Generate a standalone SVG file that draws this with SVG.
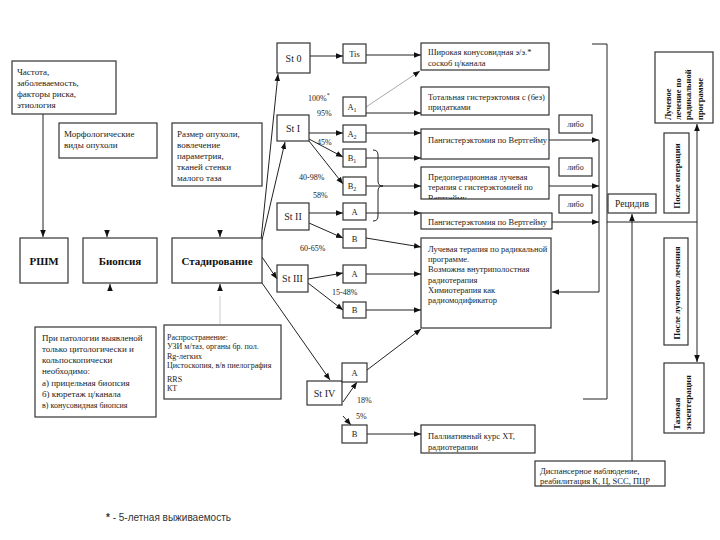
<svg xmlns="http://www.w3.org/2000/svg" width="720" height="540" viewBox="0 0 720 540">
<style>
.b{fill:#fff;stroke:#333;stroke-width:1.2}
.t{font-family:"Liberation Serif",serif;font-size:8.5px;fill:#222}
.s{font-family:"Liberation Serif",serif;font-size:10px;fill:#222;text-anchor:middle}
.h{font-family:"Liberation Serif",serif;font-size:11px;font-weight:bold;fill:#111;text-anchor:middle}
.r{font-family:"Liberation Serif",serif;font-size:8.5px;font-weight:bold;fill:#111}
.p{font-family:"Liberation Serif",serif;font-size:8px;fill:#222}
.c line,.c path,.c polyline{stroke:#222;stroke-width:1;fill:none}
.c .a{marker-end:url(#a)}
</style>
<defs>
<marker id="a" viewBox="0 0 10 10" refX="10" refY="5" markerWidth="7" markerHeight="7" markerUnits="userSpaceOnUse" orient="auto"><path d="M0,1 L10,5 L0,9 z" fill="#111"/></marker>
<clipPath id="cp"><rect x="421" y="167" width="128" height="32"/></clipPath>
</defs>
<rect width="720" height="540" fill="#fff"/>

<g class="c" id="connectors">
<line class="a" x1="43" y1="114" x2="43" y2="237"/>
<line class="a" x1="107" y1="231" x2="107" y2="237"/>
<line class="a" x1="110" y1="290" x2="110" y2="284"/>
<line class="a" x1="220" y1="231" x2="220" y2="237"/>
<line class="a" x1="220" y1="290" x2="220" y2="284"/>
<line x1="220" y1="296" x2="220" y2="324" style="stroke:#ccc"/>
<line class="a" x1="261" y1="240" x2="278" y2="74"/>
<line class="a" x1="262" y1="240" x2="285" y2="142"/>
<line class="a" x1="262" y1="257" x2="277" y2="279"/>
<line class="a" x1="262" y1="283" x2="330" y2="380"/>
<line class="a" x1="310" y1="56" x2="343" y2="56"/>
<line class="a" x1="366" y1="55" x2="421" y2="55"/>
<line class="a" x1="366" y1="107" x2="420" y2="71" style="stroke:#aaa"/>
<line class="a" x1="366" y1="113" x2="421" y2="113"/>
<line class="a" x1="309" y1="133" x2="343" y2="133"/>
<line class="a" x1="366" y1="133" x2="421" y2="133"/>
<line class="a" x1="309" y1="139" x2="343" y2="157"/>
<line class="a" x1="309" y1="141" x2="343" y2="184"/>
<line class="a" x1="366" y1="158" x2="421" y2="158"/>
<line class="a" x1="366" y1="186" x2="421" y2="186"/>
<path d="M373,150 Q378,150 378,155 L378,181 Q378,186 383,186 Q378,186 378,191 L378,216 Q378,221 373,221"/>
<line class="a" x1="309" y1="213" x2="343" y2="213"/>
<line class="a" x1="366" y1="213" x2="421" y2="213"/>
<line class="a" x1="309" y1="223" x2="343" y2="238"/>
<line class="a" x1="366" y1="238" x2="421" y2="247"/>
<line class="a" x1="308" y1="279" x2="343" y2="273"/>
<line class="a" x1="308" y1="283" x2="343" y2="310"/>
<line class="a" x1="366" y1="274" x2="421" y2="274"/>
<line class="a" x1="366" y1="310" x2="421" y2="310"/>
<line class="a" x1="367" y1="370" x2="421" y2="329"/>
<line class="a" x1="343" y1="402" x2="357" y2="382"/>
<line class="a" x1="343" y1="416" x2="351" y2="425"/>
<line class="a" x1="367" y1="434" x2="421" y2="434"/>
<line class="a" x1="549" y1="140" x2="599" y2="140"/>
<line class="a" x1="549" y1="186" x2="599" y2="186"/>
<line class="a" x1="552" y1="222" x2="599" y2="222"/>
<polyline class="a" points="599,140 599,292 552,292"/>
<polyline points="592,44 607,44 607,399 583,399"/>
<line x1="607" y1="222" x2="697" y2="222"/>
<line class="a" x1="697" y1="222" x2="697" y2="124"/>
<line class="a" x1="697" y1="222" x2="697" y2="362"/>
<line class="a" x1="632" y1="461" x2="632" y2="214"/>
</g>

<g id="n-freq"><rect class="b" x="12" y="61" width="104" height="53"/>
<text class="t" style="font-size:9px" x="17" y="75">Частота,</text>
<text class="t" style="font-size:9px" x="17" y="86">заболеваемость,</text>
<text class="t" style="font-size:9px" x="17" y="97">факторы риска,</text>
<text class="t" style="font-size:9px" x="17" y="108">этиология</text></g>

<g id="n-morph"><rect class="b" x="59" y="123" width="98" height="35"/>
<text class="t" style="font-size:9px" x="64" y="137">Морфологические</text>
<text class="t" style="font-size:9px" x="64" y="148">виды опухоли</text></g>

<g id="n-size"><rect class="b" x="172" y="123" width="90" height="63"/>
<text class="t" style="font-size:9px" x="177" y="137">Размер опухоли,</text>
<text class="t" style="font-size:9px" x="177" y="148">вовлечение</text>
<text class="t" style="font-size:9px" x="177" y="159">параметрия,</text>
<text class="t" style="font-size:9px" x="177" y="170">тканей стенки</text>
<text class="t" style="font-size:9px" x="177" y="181">малого таза</text></g>

<g id="n-rshm"><rect class="b" x="20" y="238" width="48" height="45"/><text class="h" x="44" y="265">РШМ</text></g>
<g id="n-biopsy"><rect class="b" x="83" y="238" width="74" height="45"/><text class="h" x="120" y="265">Биопсия</text></g>
<g id="n-staging"><rect class="b" x="172" y="238" width="90" height="45"/><text class="h" x="217" y="265">Стадирование</text></g>

<g id="n-path"><rect class="b" x="35" y="327" width="121" height="90"/>
<text class="t" style="font-size:9px" x="42" y="341">При патологии выявленой</text>
<text class="t" style="font-size:9px" x="42" y="352"> только цитологически и</text>
<text class="t" style="font-size:9px" x="42" y="363">кольпоскопически</text>
<text class="t" style="font-size:9px" x="42" y="374">необходимо:</text>
<text class="t" style="font-size:9px" x="42" y="386">а) прицельная биопсия</text>
<text class="t" style="font-size:9px" x="42" y="397">б) кюретаж ц/канала</text>
<text class="t" style="font-size:8px" x="42" y="408">в) конусовидная биопсия</text></g>

<g id="n-spread"><rect class="b" x="164" y="325" width="117" height="74"/>
<text class="p" x="167" y="340">Распространение:</text>
<text class="p" x="167" y="349">УЗИ м/таз, органы бр. пол.</text>
<text class="p" x="167" y="359">Rg-легких</text>
<text class="p" x="167" y="368">Цистоскопия, в/в пиелография</text>
<text class="p" x="167" y="382">RRS</text>
<text class="p" x="167" y="391">КТ</text></g>

<g id="n-st0"><rect class="b" x="277" y="43" width="33" height="30"/><text class="s" x="293.5" y="62">St 0</text></g>
<g id="n-st1"><rect class="b" x="277" y="115" width="32" height="26"/><text class="s" x="293" y="132">St I</text></g>
<g id="n-st2"><rect class="b" x="277" y="203" width="32" height="27"/><text class="s" x="293" y="220">St II</text></g>
<g id="n-st3"><rect class="b" x="277" y="265" width="31" height="27"/><text class="s" x="292.5" y="282">St III</text></g>
<g id="n-st4"><rect class="b" x="307" y="381" width="35" height="24"/><text class="s" x="324.5" y="397">St IV</text></g>

<g id="n-tis"><rect class="b" x="343" y="44" width="23" height="19"/><text class="t" x="354.5" y="57" text-anchor="middle">Tis</text></g>
<g id="n-a1"><rect class="b" x="343" y="97" width="23" height="19"/><text class="t" x="352" y="110" text-anchor="middle">A<tspan font-size="6" dy="2">1</tspan></text></g>
<g id="n-a2"><rect class="b" x="343" y="125" width="23" height="17"/><text class="t" x="352" y="137" text-anchor="middle">A<tspan font-size="6" dy="2">2</tspan></text></g>
<g id="n-b1"><rect class="b" x="343" y="149" width="23" height="18"/><text class="t" x="352" y="161" text-anchor="middle">B<tspan font-size="6" dy="2">1</tspan></text></g>
<g id="n-b2"><rect class="b" x="343" y="177" width="23" height="18"/><text class="t" x="352" y="189" text-anchor="middle">B<tspan font-size="6" dy="2">2</tspan></text></g>
<g id="n-2a"><rect class="b" x="343" y="203" width="23" height="17"/><text class="t" x="354.5" y="215" text-anchor="middle">A</text></g>
<g id="n-2b"><rect class="b" x="343" y="229" width="23" height="19"/><text class="t" x="354.5" y="242" text-anchor="middle">B</text></g>
<g id="n-3a"><rect class="b" x="343" y="265" width="23" height="18"/><text class="t" x="354.5" y="277" text-anchor="middle">A</text></g>
<g id="n-3b"><rect class="b" x="343" y="302" width="23" height="16"/><text class="t" x="354.5" y="313" text-anchor="middle">B</text></g>
<g id="n-4a"><rect class="b" x="342" y="363" width="25" height="19"/><text class="t" x="354.5" y="376" text-anchor="middle">A</text></g>
<g id="n-4b"><rect class="b" x="342" y="425" width="25" height="18"/><text class="t" x="354.5" y="437" text-anchor="middle">B</text></g>

<g id="n-wide"><rect class="b" x="421" y="43" width="128" height="27"/>
<text class="t" x="428" y="55">Широкая конусовидная э/э.*</text>
<text class="t" x="428" y="66">соскоб ц/канала</text></g>
<g id="n-total"><rect class="b" x="421" y="87" width="128" height="28"/>
<text class="t" x="428" y="100">Тотальная гистерэктомия с (без)</text>
<text class="t" x="428" y="110">придатками</text></g>
<g id="n-pan1"><rect class="b" x="421" y="129" width="128" height="30"/>
<text class="t" x="428" y="143">Пангистерэктомия по Вертгейму</text></g>
<g id="n-preop"><rect class="b" x="421" y="167" width="128" height="32"/>
<g clip-path="url(#cp)">
<text class="t" x="428" y="180">Предоперационная лучевая</text>
<text class="t" x="428" y="190">терапия с гистерэктомией по</text>
<text class="t" x="428" y="200.5">Вертгейму</text></g></g>
<g id="n-pan2"><rect class="b" x="421" y="213" width="131" height="16"/>
<text class="t" x="428" y="225">Пангистерэктомия по Вертгейму</text></g>
<g id="n-ray"><rect class="b" x="421" y="238" width="130" height="90"/>
<text class="t" x="428" y="252">Лучевая терапия по радикальной</text>
<text class="t" x="428" y="262">программе.</text>
<text class="t" x="428" y="272">Возможна внутриполостная</text>
<text class="t" x="428" y="283">радиотерапия</text>
<text class="t" x="428" y="293">Химиотерапия как</text>
<text class="t" x="428" y="303">радиомодификатор</text></g>
<g id="n-pall"><rect class="b" x="421" y="425" width="114" height="28"/>
<text class="t" x="428" y="439">Паллиативный курс  ХТ,</text>
<text class="t" x="428" y="450">радиотерапии</text></g>
<g id="n-disp"><rect class="b" x="535" y="461" width="130" height="25"/>
<text class="t" x="540" y="474">Диспансерное наблюдение,</text>
<text class="t" x="540" y="484">реабилитация К, Ц, SCC, ПЦР</text></g>

<g id="n-libo1"><rect class="b" x="559" y="115" width="33" height="18"/><text class="t" style="font-size:8px" x="575.5" y="127" text-anchor="middle">либо</text></g>
<g id="n-libo2"><rect class="b" x="559" y="158" width="33" height="18"/><text class="t" style="font-size:8px" x="575.5" y="170" text-anchor="middle">либо</text></g>
<g id="n-libo3"><rect class="b" x="559" y="195" width="33" height="18"/><text class="t" style="font-size:8px" x="575.5" y="207" text-anchor="middle">либо</text></g>
<g id="n-relapse"><rect class="b" x="608" y="194" width="48" height="19"/><text class="t" style="font-size:9.5px" x="632" y="207" text-anchor="middle">Рецидив</text></g>

<g id="n-radprog"><rect class="b" x="655" y="52" width="58" height="71"/>
<text class="r" transform="translate(671,120) rotate(-90)">Лучевое</text>
<text class="r" transform="translate(681,120) rotate(-90)">лечение по</text>
<text class="r" transform="translate(691,120) rotate(-90)">радикальной</text>
<text class="r" transform="translate(703,120) rotate(-90)">программе</text></g>
<g id="n-afterop"><rect class="b" x="664" y="133" width="25" height="80"/>
<text class="r" style="font-size:9px" text-anchor="middle" transform="translate(680,176) rotate(-90)">После операции</text></g>
<g id="n-afterray"><rect class="b" x="664" y="238" width="24" height="107"/>
<text class="r" text-anchor="middle" transform="translate(680,293) rotate(-90)">После лучевого лечения</text></g>
<g id="n-pelvic"><rect class="b" x="664" y="363" width="40" height="70"/>
<text class="r" style="font-size:9px" transform="translate(680,430) rotate(-90)">Тазовая</text>
<text class="r" style="font-size:9px" transform="translate(691,430) rotate(-90)">экзентерация</text></g>

<g id="labels" class="p">
<text x="308" y="101">100%<tspan font-size="6" dy="-4">*</tspan></text>
<text x="317" y="116">95%</text>
<text x="317" y="145">45%</text>
<text x="299" y="180">40-98%</text>
<text x="313" y="198">58%</text>
<text x="300" y="251">60-65%</text>
<text x="332" y="295">15-48%</text>
<text x="357" y="403">18%</text>
<text x="356" y="419">5%</text>
</g>
<text x="106" y="521" style="font-family:'Liberation Sans',sans-serif;font-size:10px;fill:#333"><tspan font-weight="bold">*</tspan> - 5-летная выживаемость</text>
</svg>
